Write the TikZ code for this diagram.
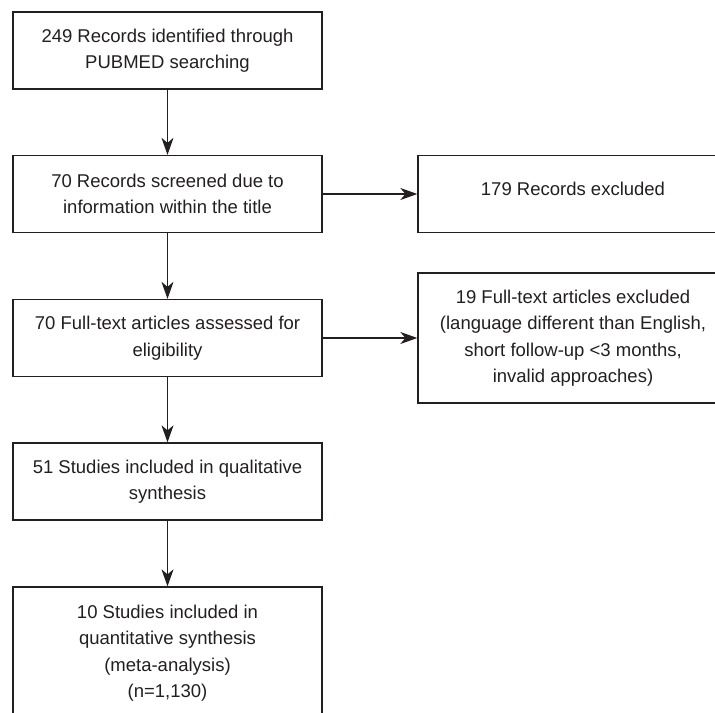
\documentclass[tikz,border=0pt]{standalone}
\usepackage{fontspec}
\setmainfont{Liberation Sans}
\usetikzlibrary{arrows.meta}
\definecolor{BoxLine}{RGB}{35,31,32}
\definecolor{BoxText}{RGB}{35,31,32}
\tikzset{
  nd_main/.style={
    rectangle, draw=BoxLine, line width=1.3bp, fill=white,
    minimum width=309bp, minimum height=77bp, inner sep=0pt,
    align=center, text=BoxText,
    font=\fontsize{18.5bp}{26.5bp}\selectfont},
  nd_excl/.style={
    nd_main, minimum width=310bp},
  arr/.style={-{Stealth[length=17bp,width=12bp,inset=5bp]},line width=1.2bp,draw=BoxLine},
}

\begin{document}
\begin{tikzpicture}[x=1bp,y=-1bp]
\clip (0,0) rectangle (715,713);
% main column
\node[nd_main] (b1) at (167.5,50.5) {249 Records identified through\\PUBMED searching};
\node[nd_main] (b2) at (167.5,194) {70 Records screened due to\\information within the title};
\node[nd_main] (b3) at (167.5,338) {70 Full-text articles assessed for\\eligibility};
\node[nd_main] (b4) at (167.5,481.5) {51 Studies included in qualitative\\synthesis};
\node[nd_main, minimum height=132bp] (b5) at (167.5,653) {10 Studies included in\\quantitative synthesis\\(meta-analysis)\\(n=1,130)};
% exclusions
\node[nd_excl] (r1) at (573,194) {\raisebox{11bp}{179 Records excluded}};
\node[nd_excl, minimum height=130bp] (r2) at (573,338) {19 Full-text articles excluded\\(language different than English,\\short follow-up <3 months,\\invalid approaches)};

\draw[arr] (b1) -- (b2);
\draw[arr] (b2) -- (b3);
\draw[arr] (b3) -- (b4);
\draw[arr] (b4) -- (b5);
\draw[arr] (b2) -- (r1);
\draw[arr] (b3) -- (r2);
\end{tikzpicture}
\end{document}
